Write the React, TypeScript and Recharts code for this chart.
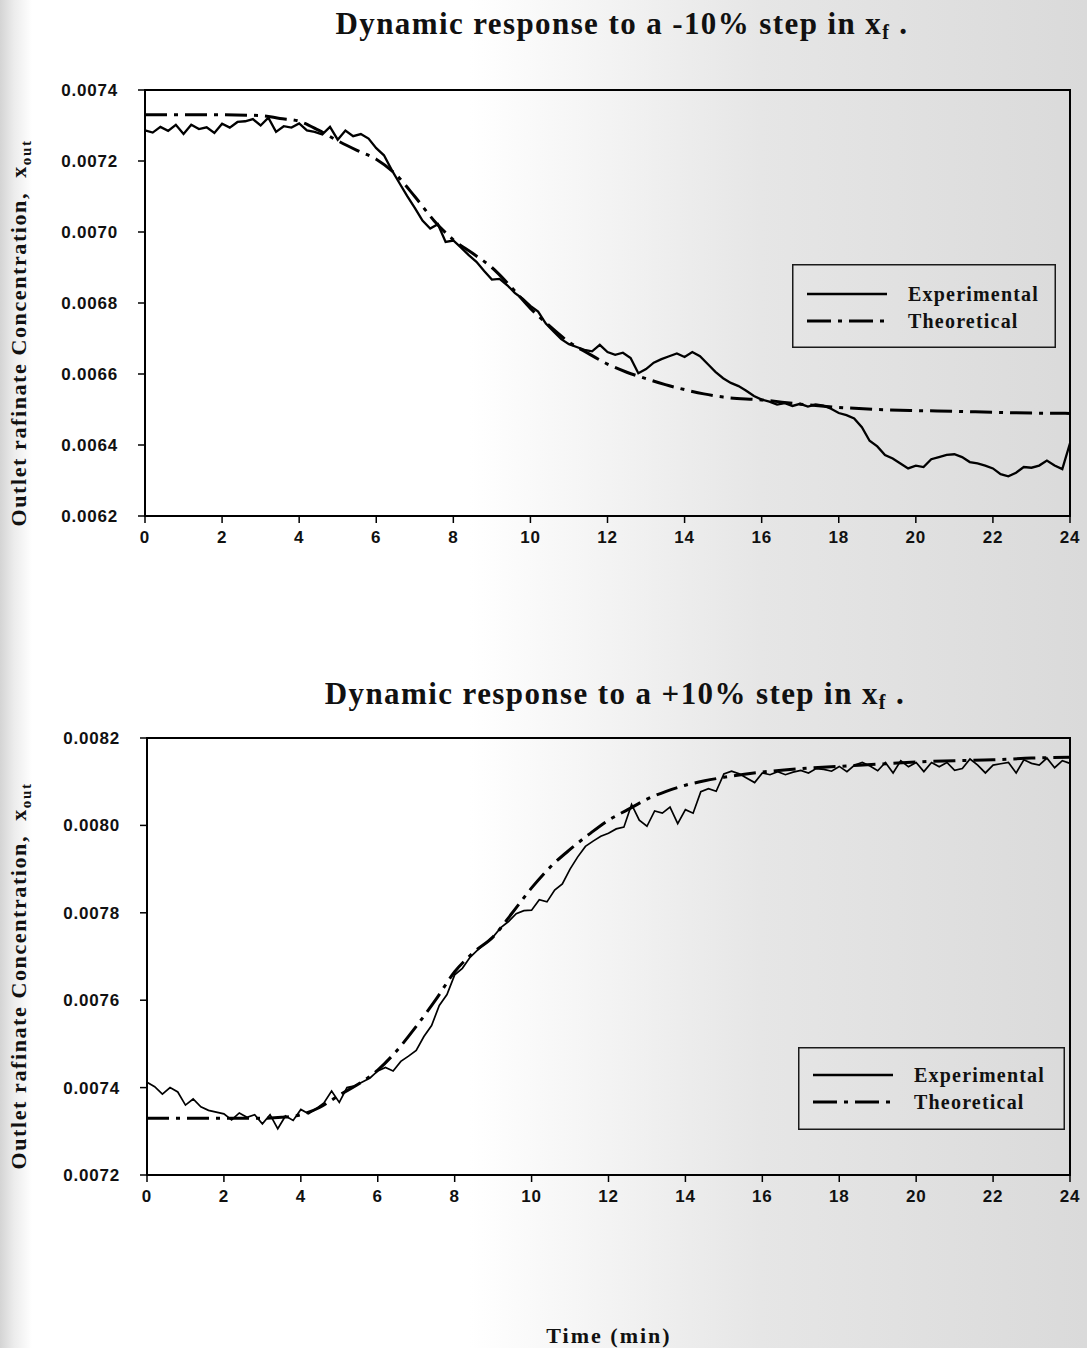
import React from 'react';
import { LineChart, Line, XAxis, YAxis, ReferenceArea, Legend } from 'recharts';

// Sampling interval of the measured outlet concentration (min)
const TIME_STEP = 0.2;
const timeTicks = [0, 2, 4, 6, 8, 10, 12, 14, 16, 18, 20, 22, 24];

// ---------- -10% step in feed concentration ----------
const negYTicks = [0.0062, 0.0064, 0.0066, 0.0068, 0.007, 0.0072, 0.0074];

const negExperimental = [
  0.007286, 0.00728, 0.007296, 0.007285, 0.007302, 0.007276, 0.007302, 0.00729, 0.007295, 0.007279,
  0.007305, 0.007294, 0.00731, 0.007312, 0.007318, 0.0073, 0.007322, 0.007282, 0.007298, 0.007294,
  0.007306, 0.007286, 0.007282, 0.007275, 0.007296, 0.00726, 0.007286, 0.00727, 0.007276, 0.007263,
  0.007236, 0.007216, 0.007175, 0.007138, 0.007102, 0.007068, 0.007032, 0.00701, 0.007022, 0.006972,
  0.006976, 0.006956, 0.006935, 0.006916, 0.00689, 0.006866, 0.006868, 0.00685, 0.006828, 0.006812,
  0.006792, 0.006776, 0.006742, 0.00672, 0.006698, 0.006684, 0.006676, 0.006668, 0.006664, 0.006682,
  0.006662, 0.006654, 0.00666, 0.006645, 0.006602, 0.006614, 0.006632, 0.006642, 0.00665, 0.006658,
  0.006648, 0.006662, 0.00665, 0.006628, 0.006606, 0.006588, 0.006575, 0.006566, 0.006553, 0.006538,
  0.006528, 0.006522, 0.006514, 0.006518, 0.00651, 0.006516, 0.006508, 0.006514, 0.006511, 0.006502,
  0.00649, 0.006484, 0.006475, 0.00645, 0.006412, 0.006396, 0.006372, 0.006362, 0.006348, 0.006334,
  0.006342, 0.006338, 0.00636, 0.006366, 0.006372, 0.006374, 0.006366, 0.006352, 0.006348, 0.006342,
  0.006334, 0.006318, 0.006312, 0.006322, 0.006338, 0.006336, 0.006342, 0.006356, 0.006342, 0.006332,
  0.006405,
];

const theoryTimes = [
  0, 1, 2, 3, 3.5, 4, 4.5, 5, 5.5, 6, 6.5, 7, 7.5, 8, 8.5, 9, 9.5, 10, 10.5, 11, 11.5, 12,
  12.5, 13, 13.5, 14, 14.5, 15, 16, 17, 18, 19, 20, 21, 22, 23, 24,
];

const negTheoretical = [
  0.00733, 0.00733, 0.00733, 0.007328, 0.00732, 0.007312, 0.007287, 0.007257, 0.00723, 0.007205,
  0.007163, 0.0071, 0.007032, 0.006978, 0.00694, 0.0069, 0.006845, 0.006785, 0.006735, 0.00669,
  0.006658, 0.006628, 0.006605, 0.006587, 0.00657, 0.006556, 0.006544, 0.006535, 0.006527, 0.006515,
  0.006506, 0.0065, 0.006497, 0.006495, 0.006492, 0.00649, 0.006489,
];

// ---------- +10% step in feed concentration ----------
const posYTicks = [0.0072, 0.0074, 0.0076, 0.0078, 0.008, 0.0082];

const posExperimental = [
  0.007412, 0.007402, 0.007385, 0.0074, 0.00739, 0.00736, 0.007374, 0.007356, 0.007348, 0.007344,
  0.00734, 0.007326, 0.007342, 0.007332, 0.007338, 0.007317, 0.007338, 0.007306, 0.007335, 0.007325,
  0.00735, 0.00734, 0.007352, 0.007365, 0.007392, 0.007366, 0.0074, 0.007404, 0.007413, 0.007422,
  0.007438, 0.007446, 0.007438, 0.00746, 0.007472, 0.007485, 0.007517, 0.007542, 0.007588, 0.007613,
  0.007658, 0.007673, 0.007698, 0.007715, 0.00773, 0.007745, 0.007766, 0.00778, 0.007798, 0.007805,
  0.007806, 0.00783, 0.007825, 0.007852, 0.007866, 0.0079, 0.007928, 0.007952, 0.007964, 0.007975,
  0.007982, 0.007992, 0.007996, 0.008048, 0.008012, 0.007998, 0.008033, 0.008028, 0.008042, 0.008004,
  0.008036, 0.008028, 0.008077, 0.008084, 0.008078, 0.008118, 0.008124, 0.008118, 0.008108, 0.008098,
  0.00812, 0.008116, 0.008123, 0.008116, 0.008122, 0.008126, 0.00812, 0.00813, 0.008128, 0.008124,
  0.008135, 0.008123, 0.008138, 0.008144, 0.008136, 0.008125, 0.008144, 0.00812, 0.008148, 0.008134,
  0.008144, 0.008123, 0.008144, 0.008134, 0.008144, 0.008126, 0.00813, 0.008152, 0.008138, 0.00812,
  0.008138, 0.008141, 0.008144, 0.00812, 0.00815, 0.008142, 0.008138, 0.008154, 0.008132, 0.008148,
  0.008142,
];

const posTheoretical = [
  0.00733, 0.00733, 0.00733, 0.00733, 0.007332, 0.007338, 0.007355, 0.007383, 0.007408, 0.00744,
  0.007485, 0.00754, 0.0076, 0.007665, 0.00771, 0.007745, 0.0078, 0.007857, 0.007906, 0.007945,
  0.00798, 0.008012, 0.008036, 0.00806, 0.008078, 0.008092, 0.008102, 0.00811, 0.008122, 0.00813,
  0.008135, 0.00814, 0.008145, 0.008148, 0.00815, 0.008154, 0.008156,
];

type Row = { t: number; experimental: number | null; theoretical: number | null };

function buildRows(expValues: number[], tTimes: number[], tValues: number[]): Row[] {
  const rows = new Map<number, Row>();
  expValues.forEach((v, i) => {
    const t = Math.round(i * TIME_STEP * 10) / 10;
    rows.set(t, { t, experimental: v, theoretical: null });
  });
  tTimes.forEach((t, i) => {
    const row = rows.get(t) ?? { t, experimental: null, theoretical: null };
    row.theoretical = tValues[i];
    rows.set(t, row);
  });
  return Array.from(rows.values()).sort((a, b) => a.t - b.t);
}

const negRows = buildRows(negExperimental, theoryTimes, negTheoretical);
const posRows = buildRows(posExperimental, theoryTimes, posTheoretical);

const SERIF = "'Liberation Serif', 'Times New Roman', serif";
const SANS = "'Liberation Sans', Arial, sans-serif";
const DASH_DOT = '22 7 4 7';

const tickStyle = {
  fill: '#111',
  fontFamily: SANS,
  fontWeight: 700,
  fontSize: 17,
  letterSpacing: 0.8,
};

type LegendBoxProps = { w: number; h: number; y1: number; y2: number; ty1: number; ty2: number };

const LegendBox = ({ w, h, y1, y2, ty1, ty2 }: LegendBoxProps) => (
  <svg width={w} height={h} style={{ display: 'block' }}>
    <rect x={0.75} y={0.75} width={w - 1.5} height={h - 1.5} fill="none" stroke="#1a1a1a" strokeWidth={1.5} />
    <line x1={15} x2={95} y1={y1} y2={y1} stroke="#000" strokeWidth={2.5} />
    <line x1={15} x2={95} y1={y2} y2={y2} stroke="#000" strokeWidth={3} strokeDasharray="24 7 4 7" />
    <text x={116} y={ty1} fontFamily={SERIF} fontWeight={700} fontSize={20} letterSpacing={1.2} fill="#111">
      Experimental
    </text>
    <text x={116} y={ty2} fontFamily={SERIF} fontWeight={700} fontSize={20} letterSpacing={1.2} fill="#111">
      Theoretical
    </text>
  </svg>
);

type PanelProps = {
  rows: Row[];
  yTicks: number[];
  top: number;
  marginTop: number;
  yAxisWidth: number;
  xAxisHeight: number;
  expWidth: number;
  legend: { left: number; top: number; w: number; h: number; y1: number; y2: number; ty1: number; ty2: number };
};

const Panel = ({ rows, yTicks, top, marginTop, yAxisWidth, xAxisHeight, expWidth, legend }: PanelProps) => {
  const yMin = yTicks[0];
  const yMax = yTicks[yTicks.length - 1];
  return (
    <div style={{ position: 'absolute', left: 0, top }}>
      <LineChart
        width={1087}
        height={660}
        data={rows}
        margin={{ top: marginTop, right: 17, bottom: 0, left: 0 }}
      >
        <XAxis
          dataKey="t"
          type="number"
          domain={[0, 24]}
          ticks={timeTicks}
          interval={0}
          height={xAxisHeight}
          tick={tickStyle}
          tickSize={7}
          tickMargin={8}
          axisLine={{ stroke: '#000', strokeWidth: 2 }}
          tickLine={{ stroke: '#000', strokeWidth: 1.5 }}
        />
        <YAxis
          type="number"
          domain={[yMin, yMax]}
          ticks={yTicks}
          interval={0}
          width={yAxisWidth}
          tick={tickStyle}
          tickSize={7}
          tickMargin={20}
          tickFormatter={(v: number) => v.toFixed(4)}
          axisLine={{ stroke: '#000', strokeWidth: 2 }}
          tickLine={{ stroke: '#000', strokeWidth: 1.5 }}
        />
        <ReferenceArea
          x1={0}
          x2={24}
          y1={yMin}
          y2={yMax}
          fill="none"
          stroke="#000"
          strokeWidth={2}
          ifOverflow="visible"
        />
        <Line
          dataKey="theoretical"
          type="monotone"
          stroke="#000"
          strokeWidth={3}
          strokeDasharray={DASH_DOT}
          dot={false}
          activeDot={false}
          connectNulls
          isAnimationActive={false}
        />
        <Line
          dataKey="experimental"
          type="linear"
          stroke="#000"
          strokeWidth={expWidth}
          dot={false}
          activeDot={false}
          connectNulls
          isAnimationActive={false}
        />
        <Legend
          content={() => (
            <LegendBox w={legend.w} h={legend.h} y1={legend.y1} y2={legend.y2} ty1={legend.ty1} ty2={legend.ty2} />
          )}
          wrapperStyle={{ position: 'absolute', left: legend.left, top: legend.top, width: legend.w, height: legend.h }}
        />
      </LineChart>
    </div>
  );
};

const titleStyle: React.CSSProperties = {
  position: 'absolute',
  transform: 'translateX(-50%)',
  whiteSpace: 'nowrap',
  fontFamily: SERIF,
  fontWeight: 700,
  fontSize: 31,
  lineHeight: 1,
  letterSpacing: 1.4,
  color: '#111',
};

const yLabelStyle: React.CSSProperties = {
  position: 'absolute',
  left: 21,
  transform: 'translate(-50%, -50%) rotate(-90deg)',
  whiteSpace: 'nowrap',
  fontFamily: SERIF,
  fontWeight: 700,
  fontSize: 22,
  lineHeight: 1,
  letterSpacing: 1.6,
  color: '#111',
};

const Sub = ({ children, size }: { children: React.ReactNode; size: number }) => (
  <span style={{ fontSize: size, verticalAlign: -5 }}>{children}</span>
);

export default function App() {
  return (
    <div
      style={{
        position: 'absolute',
        left: 0,
        top: 0,
        width: 1087,
        height: 1348,
        overflow: 'hidden',
        background:
          'linear-gradient(90deg, #d4d4d4 0px, #ececec 14px, #ffffff 32px, #ffffff 470px, #e6e6e6 760px, #dadada 1087px)',
      }}
    >
      <div style={{ ...titleStyle, left: 622, top: 8 }}>
        Dynamic response to a -10% step in x<Sub size={20}>f</Sub> .
      </div>
      <div style={{ ...titleStyle, left: 615, top: 678 }}>
        Dynamic response to a +10% step in x<Sub size={20}>f</Sub> .
      </div>

      <Panel
        rows={negRows}
        yTicks={negYTicks}
        top={0}
        marginTop={90}
        yAxisWidth={145}
        xAxisHeight={60}
        expWidth={2.3}
        legend={{ left: 792, top: 264, w: 264, h: 84, y1: 30, y2: 57, ty1: 37, ty2: 64 }}
      />
      <Panel
        rows={posRows}
        yTicks={posYTicks}
        top={660}
        marginTop={78}
        yAxisWidth={147}
        xAxisHeight={62}
        expWidth={1.7}
        legend={{ left: 798, top: 387, w: 267, h: 83, y1: 28, y2: 55, ty1: 35, ty2: 62 }}
      />

      <div style={{ ...yLabelStyle, top: 333 }}>
        Outlet rafinate Concentration,&nbsp; x<Sub size={15}>out</Sub>
      </div>
      <div style={{ ...yLabelStyle, top: 976 }}>
        Outlet rafinate Concentration,&nbsp; x<Sub size={15}>out</Sub>
      </div>

      <div
        style={{
          position: 'absolute',
          left: 609,
          top: 1325,
          transform: 'translateX(-50%)',
          whiteSpace: 'nowrap',
          fontFamily: SERIF,
          fontWeight: 700,
          fontSize: 22,
          lineHeight: 1,
          letterSpacing: 2,
          color: '#111',
        }}
      >
        Time (min)
      </div>
    </div>
  );
}
